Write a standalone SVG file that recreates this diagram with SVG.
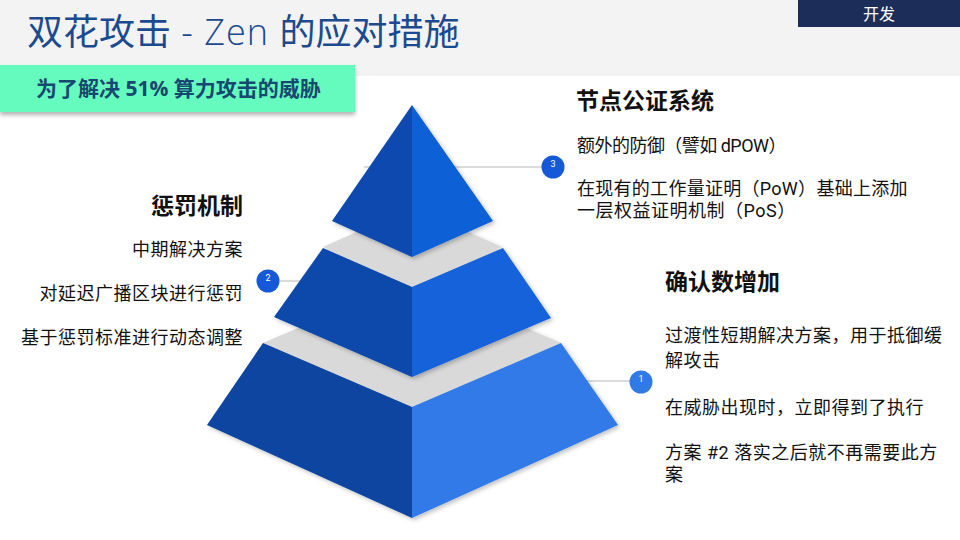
<svg xmlns="http://www.w3.org/2000/svg" width="960" height="540" viewBox="0 0 960 540">
<defs>
<style>
.t{font-family:"Roboto","Noto Sans CJK SC",sans-serif;fill:#111}
.h{font-size:23px;font-weight:bold}
.b{font-size:18px;letter-spacing:0.5px}
.n{font-family:"Roboto","Liberation Sans",sans-serif;font-size:9px;fill:#fff;text-anchor:middle}
.ln{stroke:#b7b7b7;stroke-width:1;fill:none}
</style>
<filter id="sh" x="-10%" y="-10%" width="130%" height="130%">
<feDropShadow dx="2" dy="2" stdDeviation="2" flood-color="#000" flood-opacity="0.25"/>
</filter>
<filter id="bsh" x="-5%" y="-20%" width="110%" height="160%">
<feDropShadow dx="0" dy="3" stdDeviation="2" flood-color="#000" flood-opacity="0.3"/>
</filter>
</defs>
<rect x="0" y="0" width="960" height="540" fill="#ffffff"/>
<rect x="0" y="0" width="960" height="76" fill="#f3f3f3"/>
<g id="tag">
<rect x="798" y="0" width="162" height="27" fill="#1c2d59"/>
<text x="879" y="20" font-family="Noto Sans CJK SC,sans-serif" font-size="16" fill="#fff" text-anchor="middle">开发</text>
</g>
<g id="title">
<text x="27" y="45" font-family="'Open Sans','Noto Sans CJK SC',sans-serif" font-size="36" fill="#1c4a8f">双花攻击<tspan font-weight="300" letter-spacing="1"> - Zen </tspan>的应对措施</text>
</g>
<g id="badge">
<rect x="0" y="65" width="355" height="47" fill="#66fbbe" filter="url(#bsh)"/>
<text x="36" y="96" font-family="'Open Sans','Noto Sans CJK SC',sans-serif" font-size="21" font-weight="bold" fill="#17486f">为了解决 51% 算力攻击的威胁</text>
</g>
<g id="connectors">
<line class="ln" x1="364" y1="167" x2="542" y2="167"/>
<line class="ln" x1="280" y1="281" x2="420" y2="281"/>
<line class="ln" x1="500" y1="381" x2="630" y2="381"/>
</g>
<g id="pyramid">
<g id="tier1" filter="url(#sh)">
<polygon points="263,343 412,279 561,343 412,407" fill="#d9d9d9"/>
<polygon points="263,343 412,407 412,518 207,425" fill="#0a45a0"/>
<polygon points="412,407 561,343 618,425 412,518" fill="#307ae8"/>
</g>
<g id="tier2" filter="url(#sh)">
<polygon points="323,247 412,207 502,247 412,287" fill="#d9d9d9"/>
<polygon points="323,248 412,287 412,377 274,317" fill="#0b49ab"/>
<polygon points="412,287 503,248 551,318 412,377" fill="#1462da"/>
</g>
<g id="tier3" filter="url(#sh)">
<polygon points="412,105 332,221 412,257" fill="#0b4aae"/>
<polygon points="412,105 493,221 412,257" fill="#1160d6"/>
</g>
</g>
<g id="badge3">
<circle cx="553" cy="167" r="11.5" fill="#1559d8"/>
<text class="n" x="553" y="167">3</text>
</g>
<g id="badge2">
<circle cx="268" cy="281" r="11.5" fill="#1559d8"/>
<text class="n" x="268" y="281">2</text>
</g>
<g id="badge1">
<circle cx="641" cy="382" r="11.5" fill="#2f7ae6"/>
<text class="n" x="641" y="382">1</text>
</g>
<g id="node3">
<text class="t h" x="576" y="109">节点公证系统</text>
<text class="t b" x="577" y="152" textLength="210" lengthAdjust="spacing">额外的防御（譬如 dPOW）</text>
<text class="t b" x="577" y="195" textLength="331" lengthAdjust="spacing">在现有的工作量证明（PoW）基础上添加</text>
<text class="t b" x="577" y="217">一层权益证明机制（PoS）</text>
</g>
<g id="node2">
<text class="t h" x="243" y="214" text-anchor="end">惩罚机制</text>
<text class="t b" x="243" y="256" text-anchor="end">中期解决方案</text>
<text class="t b" x="243" y="300" text-anchor="end">对延迟广播区块进行惩罚</text>
<text class="t b" x="243" y="344" text-anchor="end">基于惩罚标准进行动态调整</text>
</g>
<g id="node1">
<text class="t h" x="665" y="290">确认数增加</text>
<text class="t b" x="665" y="342">过渡性短期解决方案，用于抵御缓</text>
<text class="t b" x="665" y="367">解攻击</text>
<text class="t b" x="665" y="414">在威胁出现时，立即得到了执行</text>
<text class="t b" x="665" y="459">方案 #2 落实之后就不再需要此方</text>
<text class="t b" x="665" y="481">案</text>
</g>
</svg>
